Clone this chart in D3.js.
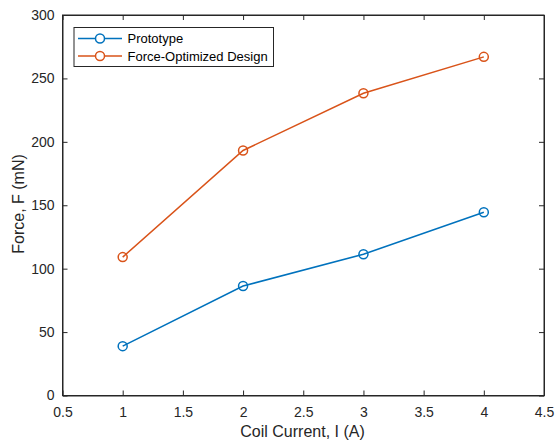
<!DOCTYPE html>
<html><head><meta charset="utf-8">
<script src="https://cdn.jsdelivr.net/npm/d3@7"></script>
<style>body{margin:0;background:#fff}svg{display:block}text{font-family:"Liberation Sans",Arial,sans-serif}</style>
</head><body><svg id="c" width="555" height="443"></svg>
<script>
const currents = [1, 2, 3, 4];
const prototypeForce = [38.9, 86.3, 111.4, 144.5];
const optimizedForce = [109.1, 193.2, 238.3, 267.0];
const seriesNames = ["Prototype", "Force-Optimized Design"];
const seriesColors = ["#0072BD", "#D95319"];
const xTicks = [0.5, 1, 1.5, 2, 2.5, 3, 3.5, 4, 4.5];
const yTicks = [0, 50, 100, 150, 200, 250, 300];

const svg = d3.select("#c");
const L = 62.5, R = 544, T = 15, B = 395.5;
const x = d3.scaleLinear().domain([0.5, 4.5]).range([L, R]);
const y = d3.scaleLinear().domain([0, 300]).range([B, T]);
const axCol = "#262626";

svg.append("rect").attr("x", L).attr("y", T).attr("width", R - L).attr("height", B - T)
  .attr("fill", "none").attr("stroke", axCol).attr("stroke-width", 1);

const fmt = d => String(d);
const gx = svg.append("g").attr("transform", `translate(0,${B})`)
  .call(d3.axisBottom(x).tickValues(xTicks).tickFormat(fmt).tickSizeInner(-5).tickSizeOuter(0).tickPadding(12));
const gxt = svg.append("g").attr("transform", `translate(0,${T})`)
  .call(d3.axisTop(x).tickValues(xTicks).tickFormat("").tickSizeInner(-5).tickSizeOuter(0));
const gy = svg.append("g").attr("transform", `translate(${L},0)`)
  .call(d3.axisLeft(y).tickValues(yTicks).tickFormat(fmt).tickSizeInner(-5).tickSizeOuter(0).tickPadding(8));
const gyr = svg.append("g").attr("transform", `translate(${R},0)`)
  .call(d3.axisRight(y).tickValues(yTicks).tickFormat("").tickSizeInner(-5).tickSizeOuter(0));
[gx, gxt, gy, gyr].forEach(g => {
  g.select(".domain").attr("stroke", axCol);
  g.selectAll(".tick line").attr("stroke", axCol);
  g.selectAll(".tick text").attr("fill", axCol).attr("font-size", 14)
    .attr("font-family", '"Liberation Sans",Arial,sans-serif');
});

svg.append("text").attr("x", 302.5).attr("y", 436.5).attr("text-anchor", "middle")
  .attr("font-size", 16).attr("fill", axCol).text("Coil Current, I (A)");
svg.append("text").attr("transform", `translate(24,204) rotate(-90)`).attr("text-anchor", "middle")
  .attr("font-size", 16).attr("fill", axCol).text("Force, F (mN)");

const allSeries = [prototypeForce, optimizedForce];
const line = d3.line().x((d, i) => x(currents[i])).y(d => y(d));
allSeries.forEach((vals, si) => {
  svg.append("path").datum(vals).attr("d", line).attr("fill", "none")
    .attr("stroke", seriesColors[si]).attr("stroke-width", 1.5);
  svg.selectAll(null).data(vals).enter().append("circle")
    .attr("cx", (d, i) => x(currents[i])).attr("cy", d => y(d)).attr("r", 4.5)
    .attr("fill", "none").attr("stroke", seriesColors[si]).attr("stroke-width", 1.5);
});

const lg = svg.append("g");
lg.append("rect").attr("x", 74).attr("y", 27.5).attr("width", 199.5).attr("height", 39)
  .attr("fill", "#fff").attr("stroke", axCol).attr("stroke-width", 1);
seriesNames.forEach((n, i) => {
  const yy = 38.5 + i * 17.5;
  lg.append("line").attr("x1", 78).attr("x2", 122).attr("y1", yy).attr("y2", yy)
    .attr("stroke", seriesColors[i]).attr("stroke-width", 1.5);
  lg.append("circle").attr("cx", 100).attr("cy", yy).attr("r", 4.5).attr("fill", "#fff")
    .attr("stroke", seriesColors[i]).attr("stroke-width", 1.5);
  lg.append("text").attr("x", 127.5).attr("y", yy + 4.5).attr("font-size", 13).attr("fill", "#000").text(n);
});
</script></body></html>
